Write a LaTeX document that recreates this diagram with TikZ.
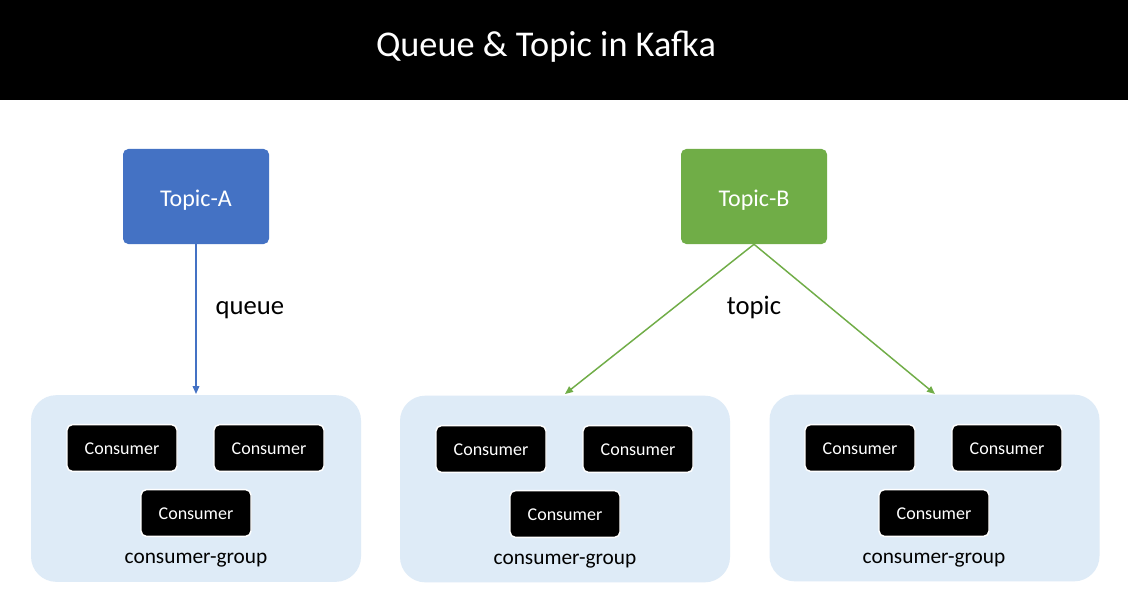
\documentclass[tikz,border=0pt]{standalone}
\usepackage{fontspec}
\setmainfont{Carlito}
\usetikzlibrary{arrows.meta}
\definecolor{topicA}{HTML}{4472C4}
\definecolor{topicB}{HTML}{70AD47}
\definecolor{grpfill}{HTML}{DEEBF7}
\begin{document}
\begin{tikzpicture}[x=0.75pt,y=-0.75pt,
  topicbox/.style={rounded corners=4pt,minimum width=109.5pt,minimum height=71.25pt,inner sep=0pt,text=white,font=\fontsize{18}{21}\selectfont,text depth=0pt},
  grpbox/.style={fill=grpfill,rounded corners=19pt,minimum width=247.5pt,minimum height=140pt,inner sep=0pt},
  consbox/.style={fill=black,draw=white,line width=1.1pt,rounded corners=4pt,minimum width=82.5pt,minimum height=35pt,inner sep=0pt,text=white,font=\fontsize{13.5}{16}\selectfont,text depth=0pt},
  grplabel/.style={font=\fontsize{16}{19}\selectfont,inner sep=0pt},
  lbl/.style={font=\fontsize{20}{24}\selectfont,inner sep=0pt},
  conn/.style={line width=1.1pt,-{Triangle[length=6pt,width=5pt]}}]
\useasboundingbox (0,0) rectangle (1128,613);
\fill[white] (0,0) rectangle (1128,613);
\node[fill=black,minimum width=846pt,minimum height=75pt,inner sep=0pt,anchor=north west] (banner) at (0,0) {};
\node[text=white,font=\fontsize{27.2}{32}\selectfont,inner sep=0pt] (title) at (546,47) {Queue \& Topic in Kafka};

\node[topicbox,fill=topicA] (ta) at (196,196.5) {\raisebox{-2.5pt}{Topic-A}};
\node[topicbox,fill=topicB] (tb) at (754,196.5) {\raisebox{-2.5pt}{Topic-B}};

\node[grpbox] (g1) at (196,488.5) {};
\node[grpbox] (g2) at (565,489) {};
\node[grpbox] (g3) at (934.5,488) {};

\foreach \g/\cx/\dy in {1/196/0,2/565/1,3/934/0}{
  \node[consbox] (c\g a) at (\cx-74,448+\dy) {\raisebox{-1pt}{Consumer}};
  \node[consbox] (c\g b) at (\cx+73,448+\dy) {\raisebox{-1pt}{Consumer}};
  \node[consbox] (c\g c) at (\cx,513+\dy) {\raisebox{-1pt}{Consumer}};
  \node[grplabel] (l\g) at (\cx,560+\dy) {consumer-group};
}

\coordinate (ea) at (196,394);
\coordinate (eb1) at (565,394);
\coordinate (eb2) at (935,394);
\draw[conn,topicA] (ta.south) -- (ea);
\draw[conn,topicB] (tb.south) -- (eb1);
\draw[conn,topicB] (tb.south) -- (eb2);
\node[lbl] (ql) at (250,310) {queue};
\node[lbl] (tl) at (754,307) {topic};
\end{tikzpicture}
\end{document}
